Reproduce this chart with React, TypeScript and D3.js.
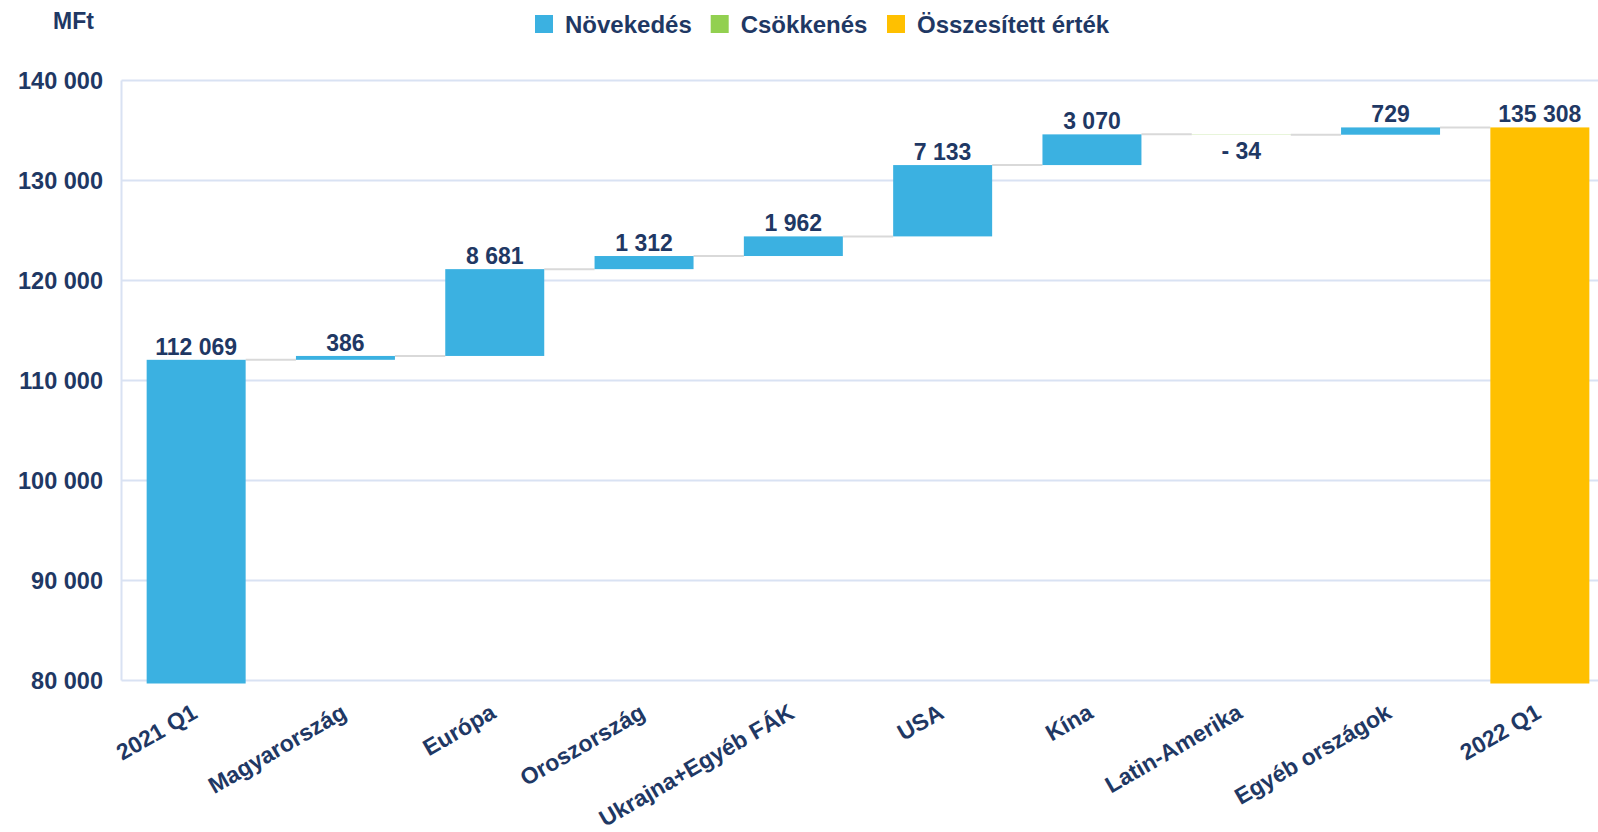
import React from "react";
import * as d3 from "d3";

const categories = [
  "2021 Q1",
  "Magyarország",
  "Európa",
  "Oroszország",
  "Ukrajna+Egyéb FÁK",
  "USA",
  "Kína",
  "Latin-Amerika",
  "Egyéb országok",
  "2022 Q1",
];
const startValue = 112069;
const changes = [386, 8681, 1312, 1962, 7133, 3070, -34, 729];
const endValue = 135308;
const yTicks = [80000, 90000, 100000, 110000, 120000, 130000, 140000];
const legendItems = ["Növekedés", "Csökkenés", "Összesített érték"];

const W = 1598;
const H = 832;
const BLUE = "#3BB1E1";
const GREEN = "#92D050";
const YELLOW = "#FFC000";
const TEXT = "#1F3864";
const GRID = "#D9E2F3";
const FONT = "'Liberation Sans', Arial, sans-serif";

const fmt = (v: number) => {
  const s = d3.format(",")(Math.abs(v)).replace(/,/g, " ");
  return v < 0 ? "- " + s : s;
};

type Bar = { cat: string; y0: number; y1: number; value: number; kind: number };

export default function App() {
  const bars: Bar[] = [];
  bars.push({ cat: categories[0], y0: 80000, y1: startValue, value: startValue, kind: 0 });
  let run = startValue;
  changes.forEach((c, i) => {
    bars.push({ cat: categories[i + 1], y0: run, y1: run + c, value: c, kind: c >= 0 ? 0 : 1 });
    run += c;
  });
  bars.push({ cat: categories[9], y0: 80000, y1: endValue, value: endValue, kind: 2 });

  const left = 121.5;
  const step = 149.3;
  const x = d3
    .scaleBand<string>()
    .domain(categories)
    .range([left, left + step * categories.length])
    .paddingInner(0.337)
    .paddingOuter(0.1685);
  const y = d3.scaleLinear().domain([80000, 140000]).range([680.5, 80.5]);
  const colors = [BLUE, GREEN, YELLOW];

  const bw = x.bandwidth();

  return (
    <svg
      width={W}
      height={H}
      style={{ position: "absolute", left: 0, top: 0, background: "#fff" }}
      fontFamily={FONT}
      fontWeight="bold"
    >
      {/* gridlines */}
      {yTicks.map((t) => (
        <line key={t} x1={left} x2={W} y1={y(t)} y2={y(t)} stroke={GRID} strokeWidth={2} />
      ))}
      <line x1={left} x2={left} y1={y(140000)} y2={y(80000)} stroke={GRID} strokeWidth={2} />
      {/* y tick labels */}
      {yTicks.map((t) => (
        <text key={t} x={103} y={y(t)} dy="0.36em" textAnchor="end" fontSize={23.5} fill={TEXT}>
          {fmt(t)}
        </text>
      ))}
      <text x={73.5} y={21} dy="0.36em" textAnchor="middle" fontSize={23} fill={TEXT}>
        MFt
      </text>
      {/* connectors */}
      {bars.slice(0, -1).map((b, i) => {
        const nx = x(bars[i + 1].cat)!;
        return (
          <line
            key={"c" + i}
            x1={x(b.cat)! + bw}
            x2={nx}
            y1={y(b.y1)}
            y2={y(b.y1)}
            stroke="#D9D9D9"
            strokeWidth={2}
          />
        );
      })}
      {/* bars */}
      {bars.map((b, i) => {
        const top = Math.min(y(b.y0), y(b.y1));
        let bot = Math.max(y(b.y0), y(b.y1));
        if (b.y0 === 80000) bot += 3;
        return (
          <rect
            key={"b" + i}
            x={x(b.cat)}
            y={top}
            width={bw}
            height={Math.max(bot - top, 0.6)}
            fill={colors[b.kind]}
            opacity={b.kind === 1 ? 0.35 : 1}
          />
        );
      })}
      {/* value labels */}
      {bars.map((b, i) => {
        const cx = x(b.cat)! + bw / 2;
        const neg = b.value < 0;
        const ly = neg ? y(b.y0) + 25 : y(Math.max(b.y0, b.y1)) - 5;
        return (
          <text key={"v" + i} x={cx} y={ly} textAnchor="middle" fontSize={23} fill={TEXT}>
            {fmt(b.value)}
          </text>
        );
      })}
      {/* x labels */}
      {categories.map((c) => {
        const cx = x(c)! + bw / 2;
        return (
          <text
            key={"x" + c}
            transform={`translate(${cx - 6},${702}) rotate(-30)`}
            textAnchor="end"
            dy="0.75em"
            fontSize={23}
            fill={TEXT}
          >
            {c}
          </text>
        );
      })}
      {/* legend */}
      {(() => {
        const pos = [535, 710.7, 887];
        return legendItems.map((l, i) => (
          <g key={l}>
            <rect x={pos[i]} y={15} width={18} height={18} fill={colors[i]} />
            <text x={pos[i] + 30} y={24} dy="0.36em" fontSize={24} fill={TEXT}>
              {l}
            </text>
          </g>
        ));
      })()}
    </svg>
  );
}
